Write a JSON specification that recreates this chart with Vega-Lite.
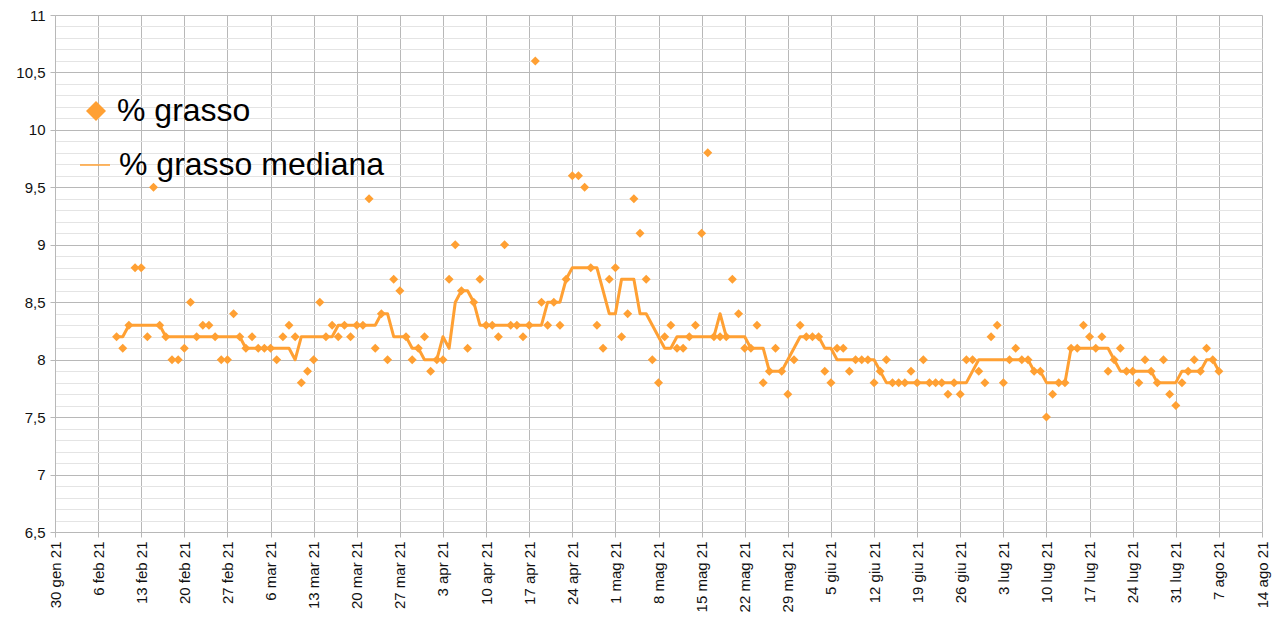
{
  "$schema": "https://vega.github.io/schema/vega-lite/v6.json",
  "width": 1207,
  "height": 517,
  "autosize": {"type": "none"},
  "padding": {"left": 55, "top": 15, "right": 20, "bottom": 103},
  "background": "white",
  "config": {"view": {"stroke": null}, "font": "Liberation Sans"},
  "data": {"values": [
    {"date":"2021-02-09","grasso":8.2,"mediana":8.2},
    {"date":"2021-02-10","grasso":8.1,"mediana":8.2},
    {"date":"2021-02-11","grasso":8.3,"mediana":8.3},
    {"date":"2021-02-12","grasso":8.8,"mediana":8.3},
    {"date":"2021-02-13","grasso":8.8,"mediana":8.3},
    {"date":"2021-02-14","grasso":8.2,"mediana":8.3},
    {"date":"2021-02-15","grasso":9.5,"mediana":8.3},
    {"date":"2021-02-16","grasso":8.3,"mediana":8.3},
    {"date":"2021-02-17","grasso":8.2,"mediana":8.2},
    {"date":"2021-02-18","grasso":8.0,"mediana":8.2},
    {"date":"2021-02-19","grasso":8.0,"mediana":8.2},
    {"date":"2021-02-20","grasso":8.1,"mediana":8.2},
    {"date":"2021-02-21","grasso":8.5,"mediana":8.2},
    {"date":"2021-02-22","grasso":8.2,"mediana":8.2},
    {"date":"2021-02-23","grasso":8.3,"mediana":8.2},
    {"date":"2021-02-24","grasso":8.3,"mediana":8.2},
    {"date":"2021-02-25","grasso":8.2,"mediana":8.2},
    {"date":"2021-02-26","grasso":8.0,"mediana":8.2},
    {"date":"2021-02-27","grasso":8.0,"mediana":8.2},
    {"date":"2021-02-28","grasso":8.4,"mediana":8.2},
    {"date":"2021-03-01","grasso":8.2,"mediana":8.2},
    {"date":"2021-03-02","grasso":8.1,"mediana":8.1},
    {"date":"2021-03-03","grasso":8.2,"mediana":8.1},
    {"date":"2021-03-04","grasso":8.1,"mediana":8.1},
    {"date":"2021-03-05","grasso":8.1,"mediana":8.1},
    {"date":"2021-03-06","grasso":8.1,"mediana":8.1},
    {"date":"2021-03-07","grasso":8.0,"mediana":8.1},
    {"date":"2021-03-08","grasso":8.2,"mediana":8.1},
    {"date":"2021-03-09","grasso":8.3,"mediana":8.1},
    {"date":"2021-03-10","grasso":8.2,"mediana":8.0},
    {"date":"2021-03-11","grasso":7.8,"mediana":8.2},
    {"date":"2021-03-12","grasso":7.9,"mediana":8.2},
    {"date":"2021-03-13","grasso":8.0,"mediana":8.2},
    {"date":"2021-03-14","grasso":8.5,"mediana":8.2},
    {"date":"2021-03-15","grasso":8.2,"mediana":8.2},
    {"date":"2021-03-16","grasso":8.3,"mediana":8.2},
    {"date":"2021-03-17","grasso":8.2,"mediana":8.3},
    {"date":"2021-03-18","grasso":8.3,"mediana":8.3},
    {"date":"2021-03-19","grasso":8.2,"mediana":8.3},
    {"date":"2021-03-20","grasso":8.3,"mediana":8.3},
    {"date":"2021-03-21","grasso":8.3,"mediana":8.3},
    {"date":"2021-03-22","grasso":9.4,"mediana":8.3},
    {"date":"2021-03-23","grasso":8.1,"mediana":8.3},
    {"date":"2021-03-24","grasso":8.4,"mediana":8.4},
    {"date":"2021-03-25","grasso":8.0,"mediana":8.4},
    {"date":"2021-03-26","grasso":8.7,"mediana":8.2},
    {"date":"2021-03-27","grasso":8.6,"mediana":8.2},
    {"date":"2021-03-28","grasso":8.2,"mediana":8.2},
    {"date":"2021-03-29","grasso":8.0,"mediana":8.1},
    {"date":"2021-03-30","grasso":8.1,"mediana":8.1},
    {"date":"2021-03-31","grasso":8.2,"mediana":8.0},
    {"date":"2021-04-01","grasso":7.9,"mediana":8.0},
    {"date":"2021-04-02","grasso":8.0,"mediana":8.0},
    {"date":"2021-04-03","grasso":8.0,"mediana":8.2},
    {"date":"2021-04-04","grasso":8.7,"mediana":8.1},
    {"date":"2021-04-05","grasso":9.0,"mediana":8.5},
    {"date":"2021-04-06","grasso":8.6,"mediana":8.6},
    {"date":"2021-04-07","grasso":8.1,"mediana":8.6},
    {"date":"2021-04-08","grasso":8.5,"mediana":8.5},
    {"date":"2021-04-09","grasso":8.7,"mediana":8.3},
    {"date":"2021-04-10","grasso":8.3,"mediana":8.3},
    {"date":"2021-04-11","grasso":8.3,"mediana":8.3},
    {"date":"2021-04-12","grasso":8.2,"mediana":8.3},
    {"date":"2021-04-13","grasso":9.0,"mediana":8.3},
    {"date":"2021-04-14","grasso":8.3,"mediana":8.3},
    {"date":"2021-04-15","grasso":8.3,"mediana":8.3},
    {"date":"2021-04-16","grasso":8.2,"mediana":8.3},
    {"date":"2021-04-17","grasso":8.3,"mediana":8.3},
    {"date":"2021-04-18","grasso":10.6,"mediana":8.3},
    {"date":"2021-04-19","grasso":8.5,"mediana":8.3},
    {"date":"2021-04-20","grasso":8.3,"mediana":8.5},
    {"date":"2021-04-21","grasso":8.5,"mediana":8.5},
    {"date":"2021-04-22","grasso":8.3,"mediana":8.5},
    {"date":"2021-04-23","grasso":8.7,"mediana":8.7},
    {"date":"2021-04-24","grasso":9.6,"mediana":8.8},
    {"date":"2021-04-25","grasso":9.6,"mediana":8.8},
    {"date":"2021-04-26","grasso":9.5,"mediana":8.8},
    {"date":"2021-04-27","grasso":8.8,"mediana":8.8},
    {"date":"2021-04-28","grasso":8.3,"mediana":8.8},
    {"date":"2021-04-29","grasso":8.1,"mediana":8.6},
    {"date":"2021-04-30","grasso":8.7,"mediana":8.4},
    {"date":"2021-05-01","grasso":8.8,"mediana":8.4},
    {"date":"2021-05-02","grasso":8.2,"mediana":8.7},
    {"date":"2021-05-03","grasso":8.4,"mediana":8.7},
    {"date":"2021-05-04","grasso":9.4,"mediana":8.7},
    {"date":"2021-05-05","grasso":9.1,"mediana":8.4},
    {"date":"2021-05-06","grasso":8.7,"mediana":8.4},
    {"date":"2021-05-07","grasso":8.0,"mediana":8.3},
    {"date":"2021-05-08","grasso":7.8,"mediana":8.2},
    {"date":"2021-05-09","grasso":8.2,"mediana":8.1},
    {"date":"2021-05-10","grasso":8.3,"mediana":8.1},
    {"date":"2021-05-11","grasso":8.1,"mediana":8.2},
    {"date":"2021-05-12","grasso":8.1,"mediana":8.2},
    {"date":"2021-05-13","grasso":8.2,"mediana":8.2},
    {"date":"2021-05-14","grasso":8.3,"mediana":8.2},
    {"date":"2021-05-15","grasso":9.1,"mediana":8.2},
    {"date":"2021-05-16","grasso":9.8,"mediana":8.2},
    {"date":"2021-05-17","grasso":8.2,"mediana":8.2},
    {"date":"2021-05-18","grasso":8.2,"mediana":8.4},
    {"date":"2021-05-19","grasso":8.2,"mediana":8.2},
    {"date":"2021-05-20","grasso":8.7,"mediana":8.2},
    {"date":"2021-05-21","grasso":8.4,"mediana":8.2},
    {"date":"2021-05-22","grasso":8.1,"mediana":8.2},
    {"date":"2021-05-23","grasso":8.1,"mediana":8.1},
    {"date":"2021-05-24","grasso":8.3,"mediana":8.1},
    {"date":"2021-05-25","grasso":7.8,"mediana":8.1},
    {"date":"2021-05-26","grasso":7.9,"mediana":7.9},
    {"date":"2021-05-27","grasso":8.1,"mediana":7.9},
    {"date":"2021-05-28","grasso":7.9,"mediana":7.9},
    {"date":"2021-05-29","grasso":7.7,"mediana":8.0},
    {"date":"2021-05-30","grasso":8.0,"mediana":8.1},
    {"date":"2021-05-31","grasso":8.3,"mediana":8.2},
    {"date":"2021-06-01","grasso":8.2,"mediana":8.2},
    {"date":"2021-06-02","grasso":8.2,"mediana":8.2},
    {"date":"2021-06-03","grasso":8.2,"mediana":8.2},
    {"date":"2021-06-04","grasso":7.9,"mediana":8.1},
    {"date":"2021-06-05","grasso":7.8,"mediana":8.1},
    {"date":"2021-06-06","grasso":8.1,"mediana":8.0},
    {"date":"2021-06-07","grasso":8.1,"mediana":8.0},
    {"date":"2021-06-08","grasso":7.9,"mediana":8.0},
    {"date":"2021-06-09","grasso":8.0,"mediana":8.0},
    {"date":"2021-06-10","grasso":8.0,"mediana":8.0},
    {"date":"2021-06-11","grasso":8.0,"mediana":8.0},
    {"date":"2021-06-12","grasso":7.8,"mediana":8.0},
    {"date":"2021-06-13","grasso":7.9,"mediana":7.9},
    {"date":"2021-06-14","grasso":8.0,"mediana":7.8},
    {"date":"2021-06-15","grasso":7.8,"mediana":7.8},
    {"date":"2021-06-16","grasso":7.8,"mediana":7.8},
    {"date":"2021-06-17","grasso":7.8,"mediana":7.8},
    {"date":"2021-06-18","grasso":7.9,"mediana":7.8},
    {"date":"2021-06-19","grasso":7.8,"mediana":7.8},
    {"date":"2021-06-20","grasso":8.0,"mediana":7.8},
    {"date":"2021-06-21","grasso":7.8,"mediana":7.8},
    {"date":"2021-06-22","grasso":7.8,"mediana":7.8},
    {"date":"2021-06-23","grasso":7.8,"mediana":7.8},
    {"date":"2021-06-24","grasso":7.7,"mediana":7.8},
    {"date":"2021-06-25","grasso":7.8,"mediana":7.8},
    {"date":"2021-06-26","grasso":7.7,"mediana":7.8},
    {"date":"2021-06-27","grasso":8.0,"mediana":7.8},
    {"date":"2021-06-28","grasso":8.0,"mediana":7.9},
    {"date":"2021-06-29","grasso":7.9,"mediana":8.0},
    {"date":"2021-06-30","grasso":7.8,"mediana":8.0},
    {"date":"2021-07-01","grasso":8.2,"mediana":8.0},
    {"date":"2021-07-02","grasso":8.3,"mediana":8.0},
    {"date":"2021-07-03","grasso":7.8,"mediana":8.0},
    {"date":"2021-07-04","grasso":8.0,"mediana":8.0},
    {"date":"2021-07-05","grasso":8.1,"mediana":8.0},
    {"date":"2021-07-06","grasso":8.0,"mediana":8.0},
    {"date":"2021-07-07","grasso":8.0,"mediana":8.0},
    {"date":"2021-07-08","grasso":7.9,"mediana":7.9},
    {"date":"2021-07-09","grasso":7.9,"mediana":7.9},
    {"date":"2021-07-10","grasso":7.5,"mediana":7.8},
    {"date":"2021-07-11","grasso":7.7,"mediana":7.8},
    {"date":"2021-07-12","grasso":7.8,"mediana":7.8},
    {"date":"2021-07-13","grasso":7.8,"mediana":7.8},
    {"date":"2021-07-14","grasso":8.1,"mediana":8.1},
    {"date":"2021-07-15","grasso":8.1,"mediana":8.1},
    {"date":"2021-07-16","grasso":8.3,"mediana":8.1},
    {"date":"2021-07-17","grasso":8.2,"mediana":8.1},
    {"date":"2021-07-18","grasso":8.1,"mediana":8.1},
    {"date":"2021-07-19","grasso":8.2,"mediana":8.1},
    {"date":"2021-07-20","grasso":7.9,"mediana":8.1},
    {"date":"2021-07-21","grasso":8.0,"mediana":8.0},
    {"date":"2021-07-22","grasso":8.1,"mediana":7.9},
    {"date":"2021-07-23","grasso":7.9,"mediana":7.9},
    {"date":"2021-07-24","grasso":7.9,"mediana":7.9},
    {"date":"2021-07-25","grasso":7.8,"mediana":7.9},
    {"date":"2021-07-26","grasso":8.0,"mediana":7.9},
    {"date":"2021-07-27","grasso":7.9,"mediana":7.9},
    {"date":"2021-07-28","grasso":7.8,"mediana":7.8},
    {"date":"2021-07-29","grasso":8.0,"mediana":7.8},
    {"date":"2021-07-30","grasso":7.7,"mediana":7.8},
    {"date":"2021-07-31","grasso":7.6,"mediana":7.8},
    {"date":"2021-08-01","grasso":7.8,"mediana":7.9},
    {"date":"2021-08-02","grasso":7.9,"mediana":7.9},
    {"date":"2021-08-03","grasso":8.0,"mediana":7.9},
    {"date":"2021-08-04","grasso":7.9,"mediana":7.9},
    {"date":"2021-08-05","grasso":8.1,"mediana":8.0},
    {"date":"2021-08-06","grasso":8.0,"mediana":8.0},
    {"date":"2021-08-07","grasso":7.9,"mediana":7.9}
  ]},
  "encoding": {
    "x": {
      "field": "date",
      "type": "temporal",
      "scale": {
        "type": "utc",
        "domain": [
          {"year": 2021, "month": 1, "date": 30, "utc": true},
          {"year": 2021, "month": 8, "date": 14, "utc": true}
        ],
        "nice": false
      },
      "axis": {
        "title": null,
        "values": [
          {"year": 2021, "month": 1, "date": 30, "utc": true},
          {"year": 2021, "month": 2, "date": 6, "utc": true},
          {"year": 2021, "month": 2, "date": 13, "utc": true},
          {"year": 2021, "month": 2, "date": 20, "utc": true},
          {"year": 2021, "month": 2, "date": 27, "utc": true},
          {"year": 2021, "month": 3, "date": 6, "utc": true},
          {"year": 2021, "month": 3, "date": 13, "utc": true},
          {"year": 2021, "month": 3, "date": 20, "utc": true},
          {"year": 2021, "month": 3, "date": 27, "utc": true},
          {"year": 2021, "month": 4, "date": 3, "utc": true},
          {"year": 2021, "month": 4, "date": 10, "utc": true},
          {"year": 2021, "month": 4, "date": 17, "utc": true},
          {"year": 2021, "month": 4, "date": 24, "utc": true},
          {"year": 2021, "month": 5, "date": 1, "utc": true},
          {"year": 2021, "month": 5, "date": 8, "utc": true},
          {"year": 2021, "month": 5, "date": 15, "utc": true},
          {"year": 2021, "month": 5, "date": 22, "utc": true},
          {"year": 2021, "month": 5, "date": 29, "utc": true},
          {"year": 2021, "month": 6, "date": 5, "utc": true},
          {"year": 2021, "month": 6, "date": 12, "utc": true},
          {"year": 2021, "month": 6, "date": 19, "utc": true},
          {"year": 2021, "month": 6, "date": 26, "utc": true},
          {"year": 2021, "month": 7, "date": 3, "utc": true},
          {"year": 2021, "month": 7, "date": 10, "utc": true},
          {"year": 2021, "month": 7, "date": 17, "utc": true},
          {"year": 2021, "month": 7, "date": 24, "utc": true},
          {"year": 2021, "month": 7, "date": 31, "utc": true},
          {"year": 2021, "month": 8, "date": 7, "utc": true},
          {"year": 2021, "month": 8, "date": 14, "utc": true}
        ],
        "labelExpr": "utcdate(datum.value) + ' ' + ['gen','feb','mar','apr','mag','giu','lug','ago','set','ott','nov','dic'][utcmonth(datum.value)] + ' 21'",
        "labelAngle": -90,
        "labelFontSize": 15,
        "labelColor": "#111111",
        "labelPadding": 4,
        "labelFont": "Liberation Sans",
        "grid": true,
        "gridColor": "#b8b8b8",
        "gridWidth": 1,
        "tickColor": "#b8b8b8",
        "tickSize": 5,
        "domainColor": "#b8b8b8",
        "labelOverlap": false,
        "labelFlush": false
      }
    }
  },
  "layer": [
    {
      "mark": {"type": "line", "color": "#ffa033", "strokeWidth": 3, "strokeJoin": "round"},
      "encoding": {
        "y": {
          "field": "mediana",
          "type": "quantitative",
          "scale": {"domain": [6.5, 11], "nice": false, "zero": false},
          "axis": {
            "orient": "left",
            "title": null,
            "values": [6.6,6.7,6.8,6.9,7.1,7.2,7.3,7.4,7.6,7.7,7.8,7.9,8.1,8.2,8.3,8.4,8.6,8.7,8.8,8.9,9.1,9.2,9.3,9.4,9.6,9.7,9.8,9.9,10.1,10.2,10.3,10.4,10.6,10.7,10.8,10.9],
            "grid": true,
            "gridColor": "#e4e4e4",
            "gridWidth": 1,
            "labels": false,
            "ticks": false,
            "domain": false
          }
        },
        "color": {
          "datum": "% grasso mediana",
          "scale": {"range": ["#ffa033"]},
          "legend": {
            "orient": "none",
            "legendX": 24,
            "legendY": 134,
            "title": null,
            "symbolType": "stroke",
            "symbolSize": 900,
            "symbolStrokeWidth": 1.5,
            "symbolStrokeColor": "#ffa033",
            "labelFontSize": 32,
            "labelFont": "Liberation Sans",
            "labelColor": "#000000",
            "labelOffset": 8,
            "labelLimit": 500,
            "padding": 0
          }
        }
      }
    },
    {
      "mark": {"type": "point", "filled": true, "color": "#ffa033", "size": 81, "opacity": 1},
      "encoding": {
        "y": {
          "field": "grasso",
          "type": "quantitative",
          "scale": {"domain": [6.5, 11], "nice": false, "zero": false},
          "axis": {
            "orient": "left",
            "title": null,
            "values": [6.5, 7, 7.5, 8, 8.5, 9, 9.5, 10, 10.5, 11],
            "labelExpr": "replace(format(datum.value, '.1~f'), '.', ',')",
            "labelFontSize": 15,
            "labelFont": "Liberation Sans",
            "labelColor": "#111111",
            "labelPadding": 5,
            "grid": true,
            "gridColor": "#b8b8b8",
            "gridWidth": 1,
            "tickColor": "#b8b8b8",
            "tickSize": 5,
            "domainColor": "#b8b8b8"
          }
        },
        "shape": {
          "datum": "% grasso",
          "scale": {"range": ["diamond"]},
          "legend": {
            "orient": "none",
            "legendX": 25,
            "legendY": 80,
            "title": null,
            "symbolType": "diamond",
            "symbolSize": 400,
            "symbolFillColor": "#ffa033",
            "symbolStrokeColor": "#ffa033",
            "symbolStrokeWidth": 0,
            "symbolOpacity": 1,
            "labelFontSize": 32,
            "labelFont": "Liberation Sans",
            "labelColor": "#000000",
            "labelOffset": 5,
            "labelLimit": 500,
            "padding": 0
          }
        }
      }
    }
  ],
  "resolve": {"axis": {"y": "independent"}}
}
